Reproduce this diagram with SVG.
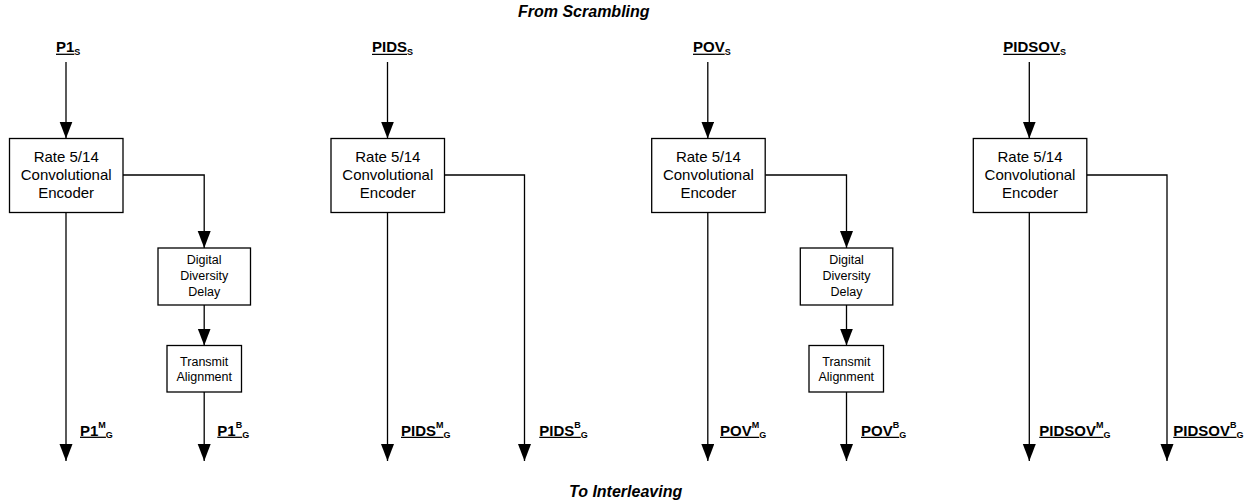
<svg xmlns="http://www.w3.org/2000/svg" width="1253" height="503" viewBox="0 0 1253 503">
  <style>
    .box { fill: #fff; stroke: #000; stroke-width: 1.3; }
    .wire { fill: none; stroke: #000; stroke-width: 1.3; }
    .ul { stroke: #000; stroke-width: 1.3; }
    .t15 { font-family: "Liberation Sans", Arial, sans-serif; font-size: 15px; fill: #000; text-anchor: middle; }
    .t12 { font-family: "Liberation Sans", Arial, sans-serif; font-size: 12.5px; fill: #000; text-anchor: middle; }
    .lbl { font-family: "Liberation Sans", Arial, sans-serif; font-size: 15px; font-weight: bold; fill: #000; }
    .small { font-size: 9px; }
    .title { font-family: "Liberation Sans", Arial, sans-serif; font-size: 16px; font-weight: bold; font-style: italic; fill: #000; }
  </style>
  <defs>
    <marker id="arrow" markerUnits="userSpaceOnUse" markerWidth="18" markerHeight="14" refX="17" refY="6.5" orient="auto">
      <path d="M0,0 L17,6.5 L0,13 z" fill="#000"/>
    </marker>
  </defs>

  <rect width="1253" height="503" fill="#fff"/>

  <!-- Section titles -->
  <text class="title" x="518" y="16.7">From Scrambling</text>
  <text class="title" x="569" y="496.7">To Interleaving</text>

  <!-- Connectors -->
  <g id="connectors">
    <!-- P1 chain -->
    <path class="wire" d="M66,62 V138.5" marker-end="url(#arrow)"/>
    <path class="wire" d="M66,212.5 V461" marker-end="url(#arrow)"/>
    <path class="wire" d="M123,175 H204.2 V248" marker-end="url(#arrow)"/>
    <path class="wire" d="M204.2,305 V345.5" marker-end="url(#arrow)"/>
    <path class="wire" d="M204.2,392 V461" marker-end="url(#arrow)"/>
    <!-- PIDS chain -->
    <path class="wire" d="M387.5,62 V138.5" marker-end="url(#arrow)"/>
    <path class="wire" d="M387.5,212.5 V461" marker-end="url(#arrow)"/>
    <path class="wire" d="M444.5,175 H524.5 V461" marker-end="url(#arrow)"/>
    <!-- POV chain -->
    <path class="wire" d="M707.8,62 V138.5" marker-end="url(#arrow)"/>
    <path class="wire" d="M707.8,212.5 V461" marker-end="url(#arrow)"/>
    <path class="wire" d="M765.2,175 H846.5 V248" marker-end="url(#arrow)"/>
    <path class="wire" d="M846.5,305 V345.5" marker-end="url(#arrow)"/>
    <path class="wire" d="M846.5,392 V461" marker-end="url(#arrow)"/>
    <!-- PIDSOV chain -->
    <path class="wire" d="M1029.3,62 V138.5" marker-end="url(#arrow)"/>
    <path class="wire" d="M1029.3,212.5 V461" marker-end="url(#arrow)"/>
    <path class="wire" d="M1086.8,175 H1167 V461" marker-end="url(#arrow)"/>
  </g>

  <!-- Encoders -->
  <g id="enc-p1">
    <rect class="box" x="9.5" y="138.5" width="113.5" height="74"/>
    <text class="t15" x="66.2" y="162.3">Rate 5/14</text>
    <text class="t15" x="66.2" y="180.2">Convolutional</text>
    <text class="t15" x="66.2" y="198">Encoder</text>
  </g>
  <g id="enc-pids">
    <rect class="box" x="331" y="138.5" width="113.5" height="74"/>
    <text class="t15" x="387.8" y="162.3">Rate 5/14</text>
    <text class="t15" x="387.8" y="180.2">Convolutional</text>
    <text class="t15" x="387.8" y="198">Encoder</text>
  </g>
  <g id="enc-pov">
    <rect class="box" x="651.7" y="138.5" width="113.5" height="74"/>
    <text class="t15" x="708.4" y="162.3">Rate 5/14</text>
    <text class="t15" x="708.4" y="180.2">Convolutional</text>
    <text class="t15" x="708.4" y="198">Encoder</text>
  </g>
  <g id="enc-pidsov">
    <rect class="box" x="973.3" y="138.5" width="113.5" height="74"/>
    <text class="t15" x="1030" y="162.3">Rate 5/14</text>
    <text class="t15" x="1030" y="180.2">Convolutional</text>
    <text class="t15" x="1030" y="198">Encoder</text>
  </g>

  <!-- Diversity delay and alignment blocks -->
  <g id="delay-p1">
    <rect class="box" x="158" y="248" width="92.5" height="57"/>
    <text class="t12" x="204.2" y="264.3">Digital</text>
    <text class="t12" x="204.2" y="280.2">Diversity</text>
    <text class="t12" x="204.2" y="295.8">Delay</text>
  </g>
  <g id="align-p1">
    <rect class="box" x="167" y="345.5" width="74.5" height="46.5"/>
    <text class="t12" x="204.2" y="366.2">Transmit</text>
    <text class="t12" x="204.2" y="380.7">Alignment</text>
  </g>
  <g id="delay-pov">
    <rect class="box" x="800.3" y="248" width="92.5" height="57"/>
    <text class="t12" x="846.5" y="264.3">Digital</text>
    <text class="t12" x="846.5" y="280.2">Diversity</text>
    <text class="t12" x="846.5" y="295.8">Delay</text>
  </g>
  <g id="align-pov">
    <rect class="box" x="809" y="345.5" width="74.5" height="46.5"/>
    <text class="t12" x="846.3" y="366.2">Transmit</text>
    <text class="t12" x="846.3" y="380.7">Alignment</text>
  </g>

  <!-- Input labels -->
  <g id="in-p1">
    <text class="lbl" x="56" y="52.3">P1<tspan class="small" dy="2.7">S</tspan></text>
    <line class="ul" x1="56" y1="54.3" x2="74.3" y2="54.3"/>
  </g>
  <g id="in-pids">
    <text class="lbl" x="372" y="52.3">PIDS<tspan class="small" dy="2.7">S</tspan></text>
    <line class="ul" x1="372" y1="54.3" x2="407" y2="54.3"/>
  </g>
  <g id="in-pov">
    <text class="lbl" x="693" y="52.3">POV<tspan class="small" dy="2.7">S</tspan></text>
    <line class="ul" x1="693" y1="54.3" x2="724.7" y2="54.3"/>
  </g>
  <g id="in-pidsov">
    <text class="lbl" x="1003.3" y="52.3">PIDSOV<tspan class="small" dy="2.7">S</tspan></text>
    <line class="ul" x1="1003.3" y1="54.3" x2="1060" y2="54.3"/>
  </g>

  <!-- Output labels -->
  <g id="out-p1-m">
    <text class="lbl" x="80" y="435.5">P1<tspan class="small" dy="-7.5">M</tspan><tspan class="small" dy="9.5">G</tspan></text>
    <line class="ul" x1="80" y1="437.3" x2="105.9" y2="437.3"/>
  </g>
  <g id="out-p1-b">
    <text class="lbl" x="217.3" y="435.5">P1<tspan class="small" dy="-7.5">B</tspan><tspan class="small" dy="9.5">G</tspan></text>
    <line class="ul" x1="217.3" y1="437.3" x2="242.2" y2="437.3"/>
  </g>
  <g id="out-pids-m">
    <text class="lbl" x="401" y="435.5">PIDS<tspan class="small" dy="-7.5">M</tspan><tspan class="small" dy="9.5">G</tspan></text>
    <line class="ul" x1="401" y1="437.3" x2="443.5" y2="437.3"/>
  </g>
  <g id="out-pids-b">
    <text class="lbl" x="539.3" y="435.5">PIDS<tspan class="small" dy="-7.5">B</tspan><tspan class="small" dy="9.5">G</tspan></text>
    <line class="ul" x1="539.3" y1="437.3" x2="580.8" y2="437.3"/>
  </g>
  <g id="out-pov-m">
    <text class="lbl" x="720" y="435.5">POV<tspan class="small" dy="-7.5">M</tspan><tspan class="small" dy="9.5">G</tspan></text>
    <line class="ul" x1="720" y1="437.3" x2="759.2" y2="437.3"/>
  </g>
  <g id="out-pov-b">
    <text class="lbl" x="861" y="435.5">POV<tspan class="small" dy="-7.5">B</tspan><tspan class="small" dy="9.5">G</tspan></text>
    <line class="ul" x1="861" y1="437.3" x2="899.2" y2="437.3"/>
  </g>
  <g id="out-pidsov-m">
    <text class="lbl" x="1039.3" y="435.5">PIDSOV<tspan class="small" dy="-7.5">M</tspan><tspan class="small" dy="9.5">G</tspan></text>
    <line class="ul" x1="1039.3" y1="437.3" x2="1103.5" y2="437.3"/>
  </g>
  <g id="out-pidsov-b">
    <text class="lbl" x="1173.3" y="435.5">PIDSOV<tspan class="small" dy="-7.5">B</tspan><tspan class="small" dy="9.5">G</tspan></text>
    <line class="ul" x1="1173.3" y1="437.3" x2="1236.5" y2="437.3"/>
  </g>
</svg>
